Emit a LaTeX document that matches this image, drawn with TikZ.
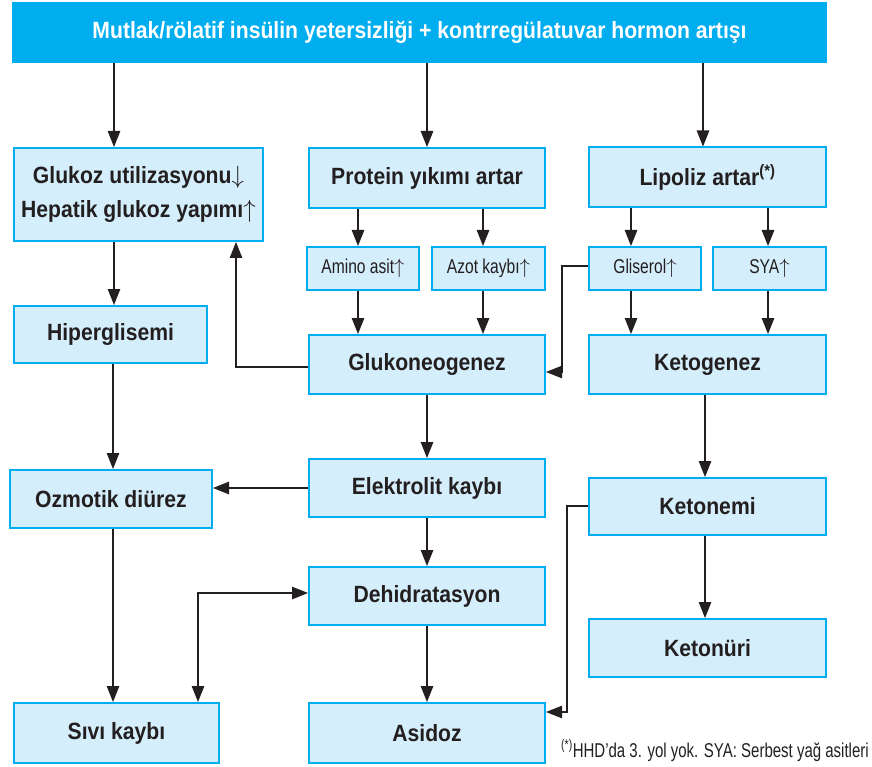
\documentclass[tikz,border=0pt]{standalone}
\usepackage{fontspec}
\setmainfont{Liberation Sans}[FakeStretch=0.9]
\newfontfamily\narrowfont{Liberation Sans}[FakeStretch=0.78]
\newfontfamily\notefont{Liberation Sans}[FakeStretch=0.75]
\usepackage{tikz}
\usetikzlibrary{arrows.meta, positioning}
\definecolor{dkacyan}{HTML}{00AEEF}
\definecolor{dkafill}{HTML}{D5EEFB}
\definecolor{dkaink}{HTML}{231F20}
\tikzstyle{arrow}=[->, >={Triangle[length=16pt,width=12.5pt]}, line width=1.1pt, color=dkaink]

\begin{document}
\begin{tikzpicture}[x=1pt, y=-1pt,
  box/.style={rectangle, draw=dkacyan, line width=2pt, fill=dkafill, inner sep=0pt,
              align=center, text=dkaink, font=\fontsize{23.5}{34}\selectfont\bfseries},
  small/.style={box, font=\fontsize{20}{22}\selectfont\narrowfont}
]
\useasboundingbox (0,0) rectangle (872,767);

% Top bar
\node[box, fill=dkacyan, text=white, minimum width=813pt, minimum height=59pt] (top) at (419.5,32.5)
  {Mutlak/rölatif insülin yetersizliği + kontrregülatuvar hormon artışı};

% First row
\node[box, minimum width=249pt, minimum height=93pt] (glukoz) at (138.5,194.5)
  {Glukoz utilizasyonu$\downarrow$\\Hepatik glukoz yapımı$\uparrow$};
\node[box, minimum width=236pt, minimum height=60pt] (protein) at (427,178) {Protein yıkımı artar};
\node[box, minimum width=237pt, minimum height=60pt] (lipoliz) at (707.5,177.5) {Lipoliz artar\textsuperscript{(*)}};

% Small boxes
\node[small, minimum width=112pt, minimum height=43pt] (amino) at (363,268.5) {Amino asit$\uparrow$};
\node[small, minimum width=113pt, minimum height=43pt] (azot) at (488.5,268.5) {Azot kaybı$\uparrow$};
\node[small, minimum width=112pt, minimum height=43pt] (gliserol) at (645,268.5) {Gliserol$\uparrow$};
\node[small, minimum width=113pt, minimum height=43pt] (sya) at (769.5,268.5) {SYA$\uparrow$};

% Middle rows
\node[box, minimum width=193pt, minimum height=57pt] (hiper) at (110.5,334.5) {Hiperglisemi};
\node[box, minimum width=236pt, minimum height=59pt] (glukoneo) at (427,364.5) {Glukoneogenez};
\node[box, minimum width=237pt, minimum height=59pt] (ketogenez) at (707.5,364.5) {Ketogenez};
\node[box, minimum width=202pt, minimum height=58pt] (ozmotik) at (111,499) {Ozmotik diürez};
\node[box, minimum width=236pt, minimum height=58pt] (elektrolit) at (427,488) {Elektrolit kaybı};
\node[box, minimum width=237pt, minimum height=57pt] (ketonemi) at (707.5,506.5) {Ketonemi};
\node[box, minimum width=236pt, minimum height=58pt] (dehid) at (427,596) {Dehidratasyon};
\node[box, minimum width=237pt, minimum height=58pt] (ketonuri) at (707.5,648) {Ketonüri};

% Bottom row
\node[box, minimum width=205pt, minimum height=60pt] (sivi) at (116.5,733) {Sıvı kaybı};
\node[box, minimum width=236pt, minimum height=60pt] (asidoz) at (427,733) {Asidoz};
\node[anchor=base west, inner sep=0pt, text=dkaink, font=\fontsize{20}{24}\selectfont\notefont] (note) at (561,757)
  {\textsuperscript{(*)}HHD’da 3. yol yok. SYA: Serbest yağ asitleri};

% Arrows
\draw[arrow] (top.south -| 114,0) -- (glukoz.north -| 114,0);
\draw[arrow] (top.south -| protein) -- (protein);
\draw[arrow] (top.south -| 703,0) -- (lipoliz.north -| 703,0);
\draw[arrow] (protein.south -| 358,0) -- (amino.north -| 358,0);
\draw[arrow] (protein.south -| 483,0) -- (azot.north -| 483,0);
\draw[arrow] (lipoliz.south -| 631,0) -- (gliserol.north -| 631,0);
\draw[arrow] (lipoliz.south -| 768,0) -- (sya.north -| 768,0);
\draw[arrow] (glukoz.south -| 114,0) -- (hiper.north -| 114,0);
\draw[arrow] ([yshift=-2.5pt]glukoneo.west) -| (glukoz.south -| 236,0);
\draw[arrow] (amino.south -| 358,0) -- (glukoneo.north -| 358,0);
\draw[arrow] (azot.south -| 483,0) -- (glukoneo.north -| 483,0);
\draw[arrow] ([yshift=2.5pt]gliserol.west) -- ++(-26,0) |- ([yshift=-7.5pt]glukoneo.east);
\draw[arrow] (gliserol.south -| 631,0) -- (ketogenez.north -| 631,0);
\draw[arrow] (sya.south -| 768,0) -- (ketogenez.north -| 768,0);
\draw[arrow] (ketogenez.south -| 705,0) -- (ketonemi.north -| 705,0);
\draw[arrow] (hiper.south -| 113,0) -- (ozmotik.north -| 113,0);
\draw[arrow] (glukoneo) -- (elektrolit);
\draw[arrow] (elektrolit.west) -- (elektrolit.west -| ozmotik.east);
\draw[arrow] (elektrolit) -- (dehid);
\draw[arrow] (ozmotik.south -| 113,0) -- (sivi.north -| 113,0);
\draw[arrow, <->] (sivi.north -| 198,0) |- ([yshift=3pt]dehid.west);
\draw[arrow] (dehid) -- (asidoz);
\draw[arrow] ([yshift=0.5pt]ketonemi.west) -- ++(-21,0) |- ([yshift=21pt]asidoz.east);
\draw[arrow] (ketonemi.south -| 705,0) -- (ketonuri.north -| 705,0);
\end{tikzpicture}
\end{document}
